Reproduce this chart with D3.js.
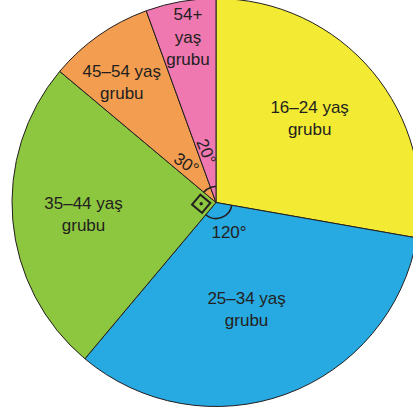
<!DOCTYPE html>
<head>
<meta charset="utf-8">
<script src="https://d3js.org/d3.v7.min.js"></script>
<style>
body { margin: 0; background: #fff; }
text { font-family: "Liberation Sans", Arial, sans-serif; font-size: 17px; fill: #231f20; }
.slice { stroke: #231f20; stroke-width: 1; }
.mark { fill: none; stroke: #231f20; stroke-width: 1.6; }
</style>
</head>
<body>
<script>
// age groups and their central angles (degrees)
const groups = ["16–24", "25–34", "35–44", "45–54", "54+"];
const angles = [100, 120, 90, 30, 20];
const colours = ["#f3ea33", "#27a9e1", "#8dc63f", "#f29d4f", "#ef78b0"];
// which slices show their angle as text (the 90 one gets a right-angle box)
const angleShown = [false, true, false, true, true];

const width = 413, height = 412;
const cx = 216, cy = 202.5, R = 204;

// label layout: [radius, angle nudge in degrees]
const labelPos = [[126, -2], [111, 4], [133, 0], [153, -3], [168, 0.4]];
const degPos = [null, [32, -4], null, [49, -2], [52, -0.4]];
const degRot = [0, 0, 0, 33, 68];

const svg = d3.select("body").append("svg")
  .attr("width", width).attr("height", height);

const g = svg.append("g").attr("transform", `translate(${cx},${cy})`);

const pie = d3.pie().sort(null).value(d => d)
  .startAngle(0).endAngle(2 * Math.PI);
const arcs = pie(angles);

const arc = d3.arc().innerRadius(0).outerRadius(R);

g.selectAll("path.slice")
  .data(arcs)
  .enter().append("path")
  .attr("class", "slice")
  .attr("d", arc)
  .style("fill", (d, i) => colours[i]);

const rad = a => a * Math.PI / 180;
const mid = d => (d.startAngle + d.endAngle) / 2;

// group labels
arcs.forEach((d, i) => {
  const lines = groups[i] === "54+" ? ["54+", "yaş", "grubu"] : [groups[i] + " yaş", "grubu"];
  const p = d3.pointRadial(mid(d) + rad(labelPos[i][1]), labelPos[i][0]);
  const lh = 22.5;
  g.append("g").selectAll("text")
    .data(lines)
    .enter().append("text")
    .attr("x", p[0])
    .attr("y", (t, j) => p[1] + (j - (lines.length - 1) / 2) * lh + 6)
    .attr("text-anchor", "middle")
    .text(t => t);
});

// angle arcs
const markArc = d3.arc().innerRadius(16).outerRadius(16);
g.selectAll("path.mark")
  .data(arcs.filter((d, i) => angleShown[i]))
  .enter().append("path")
  .attr("class", "mark")
  .attr("d", markArc);

// right-angle box
const right = arcs[angles.indexOf(90)];
const u = d3.pointRadial(right.endAngle, 1), v = d3.pointRadial(right.startAngle, 1);
const sq = (s, t) => [s * u[0] + t * v[0], s * u[1] + t * v[1]];
g.append("path")
  .attr("class", "mark")
  .style("stroke-width", 2)
  .attr("d", d3.line()([sq(4, 4), sq(17, 4), sq(17, 17), sq(4, 17)]) + "Z");
const dot = sq(10.5, 10.5);
g.append("circle").attr("cx", dot[0]).attr("cy", dot[1]).attr("r", 1.7).style("fill", "#231f20");

// angle values
arcs.forEach((d, i) => {
  if (!angleShown[i]) return;
  const p = d3.pointRadial(mid(d) + rad(degPos[i][1]), degPos[i][0]);
  g.append("text")
    .attr("transform", `translate(${p[0]},${p[1]}) rotate(${degRot[i]})`)
    .attr("text-anchor", "middle")
    .attr("dy", "0.36em")
    .text(angles[i] + "°");
});
</script>
</body>
